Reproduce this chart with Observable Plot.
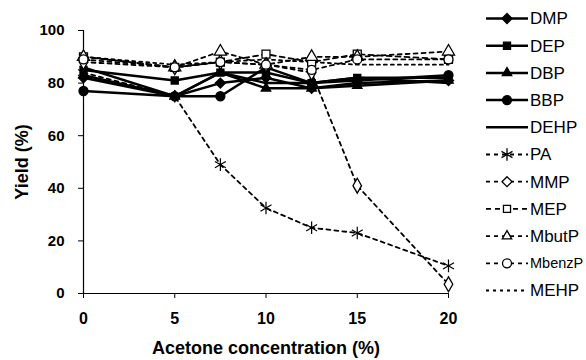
<!DOCTYPE html>
<html>
<head>
<meta charset="utf-8">
<script src="https://cdn.jsdelivr.net/npm/d3@7"></script>
<script src="https://cdn.jsdelivr.net/npm/@observablehq/plot@0.6"></script>
<style>
  html, body { margin: 0; padding: 0; background: #fff; }
  #wrap { position: relative; width: 586px; height: 360px; overflow: hidden; font-family: "Liberation Sans", Arial, sans-serif; }
  #legend { position: absolute; left: 0; top: 0; }
</style>
</head>
<body>
<div id="wrap"></div>
<script>
const concentrations = [0, 5, 7.5, 10, 12.5, 15, 20];
const seriesNames = ["DMP", "DEP", "DBP", "BBP", "DEHP", "PA", "MMP", "MEP", "MbutP", "MbenzP", "MEHP"];
const DMP    = [82, 75, 80, 82, 78, 80, 81];
const DEP    = [85, 81, 84, 84, 80, 82, 82];
const DBP    = [83, 75, 84, 78, 78, 79, 81];
const BBP    = [77, 75, 75, 86, 80, 81, 83];
const DEHP   = [86, 75, 84, 80, 80, 82, 80];
const PA     = [84, 75, 49, 32.5, 25, 23, 10.5];
const MMP    = [88, 86, 88, 87, 84, 41, 3.5];
const MEP    = [90, 86, 88, 91, 88, 91, 89];
const MbutP  = [90, 86, 92, 87, 90, 90, 92];
const MbenzP = [89, 86, 88, 87, 85, 89, 89];
const MEHP   = [90, 87, 88, 89, 88, 87, 87];
const xTicks = [0, 5, 10, 15, 20];
const yTicks = [0, 20, 40, 60, 80, 100];

const valuesBySeries = {DMP, DEP, DBP, BBP, DEHP, PA, MMP, MEP, MbutP, MbenzP, MEHP};
const symbols = {DMP: "diamond2", DEP: "square2", DBP: "triangle2", BBP: "circle", DEHP: null,
  PA: "asterisk", MMP: "diamond", MEP: "square", MbutP: "triangle", MbenzP: "circle", MEHP: null};
const filled = new Set(["DMP", "DEP", "DBP", "BBP", "DEHP"]);
const dashes = {DMP: null, DEP: null, DBP: null, BBP: null, DEHP: null,
  PA: "4,4", MMP: "4,4", MEP: "5,4", MbutP: "4,4", MbenzP: "4,4", MEHP: "3,4"};

const rows = [];
for (const s of seriesNames) {
  valuesBySeries[s].forEach((v, i) => rows.push({series: s, x: concentrations[i], y: v}));
}

const marks = [];
for (const s of seriesNames) {
  const d = rows.filter(r => r.series === s);
  marks.push(Plot.line(d, {x: "x", y: "y", stroke: "black",
    strokeWidth: filled.has(s) ? 2.5 : 1.8, strokeDasharray: dashes[s] || undefined}));
}
for (const s of seriesNames) {
  if (!symbols[s]) continue;
  const d = rows.filter(r => r.series === s);
  const solid = filled.has(s);
  marks.push(Plot.dot(d, {x: "x", y: "y", symbol: () => symbols[s], r: s === "PA" ? 6 : 4.5,
    fill: solid ? "black" : "white", stroke: "black", strokeWidth: s === "PA" ? 1.2 : 1.3}));
}

const plot = Plot.plot({
  width: 586, height: 360,
  marginLeft: 83, marginRight: 138, marginTop: 30, marginBottom: 67,
  style: {fontFamily: "Liberation Sans, Arial, sans-serif", background: "white"},
  x: {domain: [0, 20]},
  y: {domain: [0, 100]},
  symbol: {type: "identity"},
  marks: [
    Plot.axisX({ticks: xTicks, tickSize: 5, tickPadding: 14, fontSize: 16, fontWeight: "bold",
      label: "Acetone concentration (%)", labelAnchor: "center", labelOffset: 60, labelArrow: "none"}),
    Plot.axisY({ticks: yTicks, tickSize: 5, tickPadding: 14, fontSize: 15, fontWeight: "bold",
      label: "Yield (%)", labelAnchor: "center", labelOffset: 68, labelArrow: "none"}),
    Plot.ruleY([0], {strokeWidth: 1.2}),
    Plot.ruleX([0], {strokeWidth: 1.2}),
    ...marks
  ]
});
d3.select(plot).selectAll("g[aria-label='x-axis label'] text, g[aria-label='y-axis label'] text")
  .style("font-size", "18px").style("font-weight", "bold");

const wrap = document.getElementById("wrap");
wrap.appendChild(plot);

// legend
const leg = d3.select(wrap).append("svg").attr("id", "legend")
  .attr("width", 586).attr("height", 360);
const legX0 = 486, legX1 = 528, legY0 = 18.5, legStep = 27.2;
const symMap = {diamond2: d3.symbolDiamond2, square2: d3.symbolSquare2, triangle2: d3.symbolTriangle2,
  circle: d3.symbolCircle, asterisk: d3.symbolAsterisk, diamond: d3.symbolDiamond2,
  square: d3.symbolSquare2, triangle: d3.symbolTriangle2};
seriesNames.forEach((s, i) => {
  const y = legY0 + i * legStep;
  const g = leg.append("g");
  g.append("line").attr("x1", legX0).attr("x2", legX1).attr("y1", y).attr("y2", y)
    .attr("stroke", "black").attr("stroke-width", filled.has(s) ? 2.5 : 1.8)
    .attr("stroke-dasharray", dashes[s] || null);
  if (symbols[s]) {
    const r = s === "PA" ? 6 : 4.5;
    const size = Math.PI * r * r;
    g.append("path").attr("transform", `translate(${(legX0 + legX1) / 2},${y})`)
      .attr("d", d3.symbol(symMap[symbols[s]], size)())
      .attr("fill", filled.has(s) ? "black" : (s === "PA" ? "none" : "white"))
      .attr("stroke", "black").attr("stroke-width", 1.3);
  }
  g.append("text").attr("x", 530).attr("y", y).attr("dy", "0.35em")
    .attr("font-family", "Liberation Sans, Arial, sans-serif")
    .attr("font-size", s === "MbenzP" ? 14.5 : 17)
    .text(s);
});
</script>
</body>
</html>
